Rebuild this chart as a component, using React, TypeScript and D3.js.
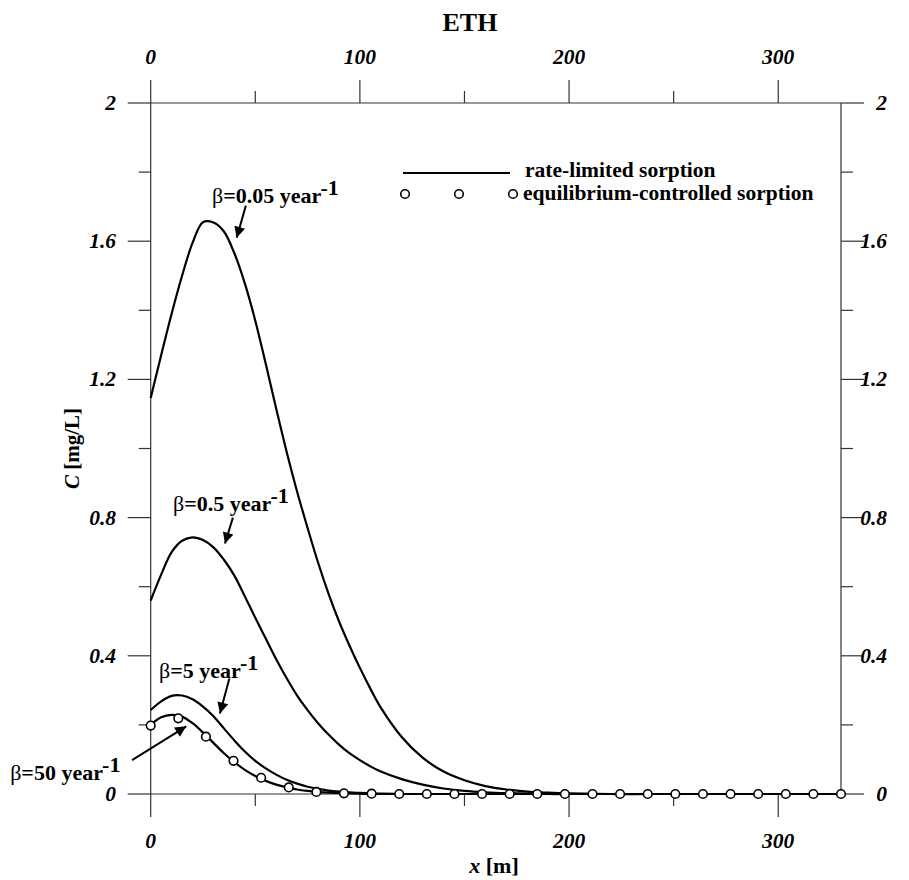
import React from 'react';
import * as d3 from 'd3';

// distance along the domain [m]
const xGrid = [0, 5, 10, 15, 20, 25, 30, 35, 40, 45, 50, 55, 60, 65, 70, 75, 80, 85, 90, 95, 100, 105, 110, 120, 130, 140, 150, 160, 170, 180, 190, 200, 220, 240, 260, 280, 300, 330];

// rate-limited sorption, C [mg/L]
const beta005 = [1.146, 1.27, 1.39, 1.5, 1.595, 1.655, 1.654, 1.628, 1.565, 1.478, 1.37, 1.245, 1.115, 0.99, 0.875, 0.77, 0.67, 0.58, 0.5, 0.43, 0.365, 0.305, 0.25, 0.165, 0.105, 0.065, 0.04, 0.023, 0.013, 0.007, 0.004, 0.002, 0, 0, 0, 0, 0, 0];
const beta05 = [0.56, 0.635, 0.7, 0.733, 0.743, 0.735, 0.714, 0.678, 0.632, 0.572, 0.51, 0.45, 0.39, 0.335, 0.285, 0.243, 0.205, 0.172, 0.143, 0.118, 0.098, 0.08, 0.065, 0.043, 0.027, 0.016, 0.009, 0.005, 0.0025, 0.001, 0, 0, 0, 0, 0, 0, 0, 0];
const beta5 = [0.243, 0.268, 0.284, 0.285, 0.274, 0.253, 0.225, 0.19, 0.155, 0.123, 0.096, 0.074, 0.056, 0.041, 0.03, 0.021, 0.015, 0.01, 0.007, 0.005, 0.003, 0.002, 0.001, 0, 0, 0, 0, 0, 0, 0, 0, 0, 0, 0, 0, 0, 0, 0];
const beta50 = [0.2, 0.222, 0.229, 0.224, 0.205, 0.178, 0.148, 0.118, 0.092, 0.07, 0.052, 0.038, 0.027, 0.019, 0.013, 0.009, 0.006, 0.004, 0.003, 0.002, 0.001, 0, 0, 0, 0, 0, 0, 0, 0, 0, 0, 0, 0, 0, 0, 0, 0, 0];

// equilibrium-controlled sorption (circles)
const eqX = [0, 13.2, 26.4, 39.6, 52.8, 66, 79.2, 92.4, 105.6, 118.8, 132, 145.2, 158.4, 171.6, 184.8, 198, 211.2, 224.4, 237.6, 250.8, 264, 277.2, 290.4, 303.6, 316.8, 330];
const eqC = [0.198, 0.219, 0.166, 0.096, 0.047, 0.019, 0.006, 0.002, 0.001, 0, 0, 0, 0, 0, 0, 0, 0, 0, 0, 0, 0, 0, 0, 0, 0, 0];

const xMajor = [0, 100, 200, 300];
const xMinor = [50, 150, 250];
const yMajor = [0, 0.4, 0.8, 1.2, 1.6, 2];
const yMinor = [0.2, 0.6, 1.0, 1.4, 1.8];
const yLabels = ['0', '0.4', '0.8', '1.2', '1.6', '2'];

const betaLabels = ['0.05', '0.5', '5', '50'];

const W = 909, H = 880;
const FONT = '"Liberation Serif", "Times New Roman", serif';

const App = () => {
  const x = d3.scaleLinear().domain([0, 330]).range([150.7, 841]);
  const y = d3.scaleLinear().domain([0, 2]).range([794, 103]);

  const line = d3.line<number>()
    .x((_, i) => x(xGrid[i]))
    .y(d => y(d))
    .curve(d3.curveCatmullRom.alpha(0.5));

  const series = [beta005, beta05, beta5, beta50];

  // label placement in data units: [textX, textY, arrowFromX, arrowFromY, arrowToX, arrowToY]
  const notes = [
    [29.3, 1.71, 45.5, 1.703, 41.1, 1.61],
    [10.7, 0.82, 39.3, 0.8, 35.5, 0.725],
    [4.0, 0.337, 37.6, 0.334, 33.1, 0.233],
    [-67.2, 0.041, -8.9, 0.098, 17.0, 0.196],
  ];

  const axisColor = '#333';
  const tickFont = { fontFamily: FONT, fontWeight: 'bold', fontStyle: 'italic', fontSize: 21.5 } as const;

  return (
    <svg width={W} height={H} style={{ position: 'absolute', left: 0, top: 0, background: '#fff' }}>
      <defs>
        <marker id="ah" viewBox="0 0 10 10" refX="10" refY="5" markerWidth="13" markerHeight="11" markerUnits="userSpaceOnUse" orient="auto">
          <path d="M0,0 L10,5 L0,10 z" fill="#000" />
        </marker>
      </defs>

      {/* frame */}
      <g stroke={axisColor} strokeWidth={1.2} fill="none">
        <line x1={x(0)} x2={x(330)} y1={y(0)} y2={y(0)} />
        <line x1={x(0)} x2={x(330)} y1={y(2)} y2={y(2)} />
        <line x1={x(0)} x2={x(0)} y1={y(0)} y2={y(2)} />
        <line x1={x(330)} x2={x(330)} y1={y(0)} y2={y(2)} />
        {xMajor.map(v => (
          <g key={'xm' + v}>
            <line x1={x(v)} x2={x(v)} y1={y(0)} y2={y(0) + 23} />
            <line x1={x(v)} x2={x(v)} y1={y(2)} y2={y(2) - 23} />
          </g>
        ))}
        {xMinor.map(v => (
          <g key={'xn' + v}>
            <line x1={x(v)} x2={x(v)} y1={y(0)} y2={y(0) + 12} />
            <line x1={x(v)} x2={x(v)} y1={y(2)} y2={y(2) - 12} />
          </g>
        ))}
        {yMajor.map(v => (
          <g key={'ym' + v}>
            <line x1={x(0)} x2={x(0) - 23} y1={y(v)} y2={y(v)} />
            <line x1={x(330)} x2={x(330) + 23} y1={y(v)} y2={y(v)} />
          </g>
        ))}
        {yMinor.map(v => (
          <g key={'yn' + v}>
            <line x1={x(0)} x2={x(0) - 12} y1={y(v)} y2={y(v)} />
            <line x1={x(330)} x2={x(330) + 12} y1={y(v)} y2={y(v)} />
          </g>
        ))}
      </g>

      {/* tick labels */}
      {xMajor.map(v => (
        <g key={'xl' + v} {...tickFont} textAnchor="middle">
          <text x={x(v)} y={848}>{v}</text>
          <text x={x(v)} y={64}>{v}</text>
        </g>
      ))}
      {yMajor.map((v, i) => (
        <g key={'yl' + v} {...tickFont} textAnchor="end" dominantBaseline="central">
          <text x={116} y={y(v)}>{yLabels[i]}</text>
          <text x={887} y={y(v)}>{yLabels[i]}</text>
        </g>
      ))}

      {/* titles */}
      <text x={470} y={31} textAnchor="middle" fontFamily={FONT} fontWeight="bold" fontSize={26}>ETH</text>
      <text x={494} y={873} textAnchor="middle" fontFamily={FONT} fontWeight="bold" fontSize={22}>
        <tspan fontStyle="italic">x</tspan> [m]
      </text>
      <text transform={`translate(79,${y(1)}) rotate(-90)`} textAnchor="middle" fontFamily={FONT} fontWeight="bold" fontSize={21}>
        <tspan fontStyle="italic">C</tspan> [mg/L]
      </text>

      {/* curves */}
      {series.map((s, i) => (
        <path key={'s' + i} d={line(s) || ''} fill="none" stroke="#000" strokeWidth={2.2} />
      ))}
      {eqX.map((v, i) => (
        <circle key={'c' + i} cx={x(v)} cy={y(eqC[i])} r={4.3} fill="#fff" stroke="#000" strokeWidth={1.6} />
      ))}

      {/* annotations */}
      {notes.map((n, i) => (
        <g key={'n' + i}>
          <text x={x(n[0])} y={y(n[1])} fontFamily={FONT} fontSize={22}>
            <tspan>β</tspan>
            <tspan fontWeight="bold">={betaLabels[i]} year</tspan>
            <tspan fontWeight="bold" dy={-8}>-1</tspan>
          </text>
          <line x1={x(n[2])} y1={y(n[3])} x2={x(n[4])} y2={y(n[5])} stroke="#000" strokeWidth={2} markerEnd="url(#ah)" />
        </g>
      ))}

      {/* legend */}
      <line x1={403} x2={510} y1={173} y2={173} stroke="#000" strokeWidth={2.2} />
      <text x={525} y={177} fontFamily={FONT} fontWeight="bold" fontSize={21.5}>rate-limited sorption</text>
      {[405, 459, 513].map(cx => (
        <circle key={'lc' + cx} cx={cx} cy={194} r={4.3} fill="#fff" stroke="#000" strokeWidth={1.6} />
      ))}
      <text x={523} y={200} fontFamily={FONT} fontWeight="bold" fontSize={21.5}>equilibrium-controlled sorption</text>
    </svg>
  );
};

export default App;
